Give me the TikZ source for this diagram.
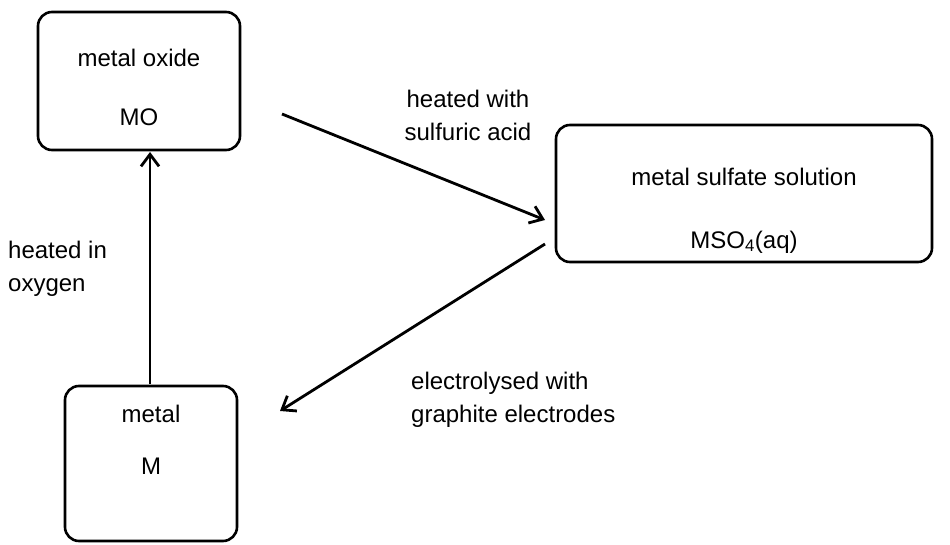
\documentclass[tikz,border=0pt]{standalone}
\usepackage{fontspec}
\setmainfont{Liberation Sans}
\usetikzlibrary{arrows.meta}
\tikzset{
  stagebox/.style={draw,line width=2.6pt,rounded corners=14pt},
  steptext/.style={align=left,font=\fontsize{24}{33}\selectfont,inner sep=0pt},
  boxtext/.style={font=\fontsize{24}{28}\selectfont,inner sep=0pt},
  route/.style={line width=2.8pt,-{Straight Barb[length=12pt,width=18pt]}}
}
\begin{document}
\begin{tikzpicture}[x=1pt,y=-1pt]
  \useasboundingbox (0,0) rectangle (950,545);
  % boxes
  \draw[stagebox] (38,12) rectangle (240,150);
  \node[boxtext] (oxname) at (139,58) {metal oxide};
  \node[boxtext] (oxform) at (139,117) {MO};
  \draw[stagebox] (556,125) rectangle (932,262);
  \node[boxtext] (sulname) at (744,177) {metal sulfate solution};
  \node[boxtext] (sulform) at (744,242) {MSO\textsubscript{4}(aq)};
  \draw[stagebox] (65,386) rectangle (237,541);
  \node[boxtext] (metname) at (151,414) {metal};
  \node[boxtext] (metform) at (151,466) {M};
  % arrows
  \coordinate (mtop) at (150,384);
  \coordinate (obot) at (150,152);
  \coordinate (oright) at (282,114);
  \coordinate (sleft) at (545,220);
  \coordinate (sleftlow) at (545,244);
  \coordinate (mright) at (280,411);
  \draw[route] (mtop) -- (obot);
  \draw[route] (oright) -- (sleft);
  \draw[route] (sleftlow) -- (mright);
  % labels
  \node[steptext,align=center] (acid) at (468,115) {heated with\\sulfuric acid};
  \node[steptext,anchor=west] (oxy) at (8,269) {heated in\\oxygen};
  \node[steptext,anchor=west] (elec) at (411,400) {electrolysed with\\graphite electrodes};
\end{tikzpicture}
\end{document}
